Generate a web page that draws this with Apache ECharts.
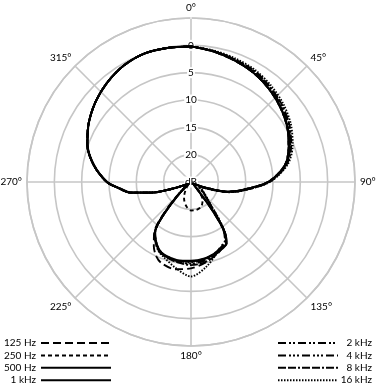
<!DOCTYPE html>
<html>
<head>
<meta charset="utf-8">
<script src="https://cdn.jsdelivr.net/npm/echarts@6/dist/echarts.min.js"></script>
<style>html,body{margin:0;padding:0;background:#fff}#c{width:380px;height:388px}</style>
</head>
<body>
<div id="c"></div>
<script>
// Angles in degrees (clockwise from top)
const angles = [0,10,20,30,40,50,60,70,80,90,100,105,110,115,120,125,130,135,140,143,146,150,155,160,170,180,190,200,205,210,215,218,221,225,230,235,240,245,250,255,260,265,270,280,290,300,310,320,330,340,350,360];
// Radius values: 25 = 0 dB, 0 = 25 dB attenuation (centre)
const hz125 = [24.8,24.2,23.6,23.0,22.2,21.3,20.3,19.0,17.4,14.1,9.0,6.8,3.5,1.6,0.7,0.4,0.5,0.9,2.2,6.3,10.8,12.9,13.4,14.0,15.0,15.8,16.2,15.8,15.0,13.6,11.8,10.4,7.5,3.8,1.3,0.7,0.5,1.5,3.5,7.5,11.2,13.2,15.4,18.1,20.2,21.6,22.8,23.8,24.6,25.0,24.9,24.8];
const hz250 = [24.8,24.2,23.6,23.0,22.2,21.3,20.3,19.0,17.4,14.0,9.0,6.8,3.5,1.5,0.5,0.5,0.8,1.5,2.5,3.2,3.8,4.2,4.7,5.0,5.2,5.2,4.6,3.6,3.0,2.3,1.6,1.3,1.0,0.7,0.5,0.5,0.6,1.5,3.5,7.5,11.2,13.2,15.4,18.1,20.2,21.6,22.8,23.8,24.6,25.0,24.9,24.8];
const hz500 = [24.8,24.2,23.6,23.0,22.2,21.3,20.3,19.0,17.4,14.1,9.0,6.8,3.5,1.6,0.7,0.4,0.4,0.8,2.0,6.5,11.0,13.0,13.5,13.8,14.3,14.5,14.6,14.3,13.8,12.8,11.6,10.0,6.5,3.0,1.0,0.6,0.5,1.5,3.5,7.5,11.2,13.2,15.4,18.1,20.2,21.6,22.8,23.8,24.6,25.0,24.9,24.8];
const khz1 = [24.8,24.2,23.6,23.0,22.2,21.4,20.4,19.1,17.5,14.2,9.1,6.9,3.6,1.7,0.8,0.5,0.5,0.9,2.2,6.6,11.1,13.0,13.4,13.7,14.2,14.4,14.5,14.2,13.7,12.7,11.5,9.9,6.4,2.9,1.0,0.6,0.5,1.5,3.5,7.4,11.1,13.1,15.3,18.0,20.1,21.6,22.8,23.8,24.6,25.0,24.9,24.8];
const khz2 = [24.8,24.3,23.7,23.2,22.4,21.6,20.6,19.3,17.5,14.2,9.2,7.0,4.0,2.2,1.6,2.0,2.8,3.8,5.5,7.8,10.6,12.4,13.0,13.6,14.4,14.7,14.6,14.2,13.7,12.7,11.4,9.9,6.8,3.2,1.2,0.8,0.7,1.6,3.6,7.5,11.2,13.2,15.4,18.1,20.2,21.6,22.8,23.8,24.6,25.0,24.9,24.8];
const khz4 = [24.8,24.3,23.8,23.3,22.5,21.7,20.7,19.4,17.6,14.3,9.3,7.1,4.1,2.3,1.7,2.1,2.9,3.9,5.7,8.0,10.8,12.6,13.1,13.7,14.6,14.9,14.7,14.3,13.8,12.8,11.5,10.0,6.9,3.3,1.2,0.8,0.7,1.6,3.6,7.5,11.2,13.2,15.4,18.1,20.2,21.6,22.8,23.8,24.6,25.0,24.9,24.8];
const khz8 = [24.8,24.3,23.8,23.4,22.6,21.8,20.8,19.5,17.7,14.3,9.3,7.1,4.1,2.3,1.8,2.2,3.0,4.0,5.8,8.2,10.9,12.8,13.3,13.9,14.9,15.2,14.9,14.4,13.9,12.9,11.5,10.0,6.9,3.3,1.2,0.8,0.7,1.6,3.6,7.5,11.2,13.2,15.4,18.1,20.2,21.6,22.8,23.8,24.6,25.0,24.9,24.8];
const khz16 = [24.8,24.4,24.0,23.6,22.9,22.1,21.1,19.8,17.9,14.4,9.4,7.2,4.2,2.4,1.9,2.4,3.2,4.2,6.0,8.6,11.0,12.9,13.3,13.9,15.8,17.3,16.0,14.6,14.0,12.9,11.6,10.0,6.9,3.3,1.2,0.8,0.7,1.6,3.6,7.5,11.2,13.2,15.4,18.1,20.2,21.6,22.8,23.8,24.6,25.0,24.9,24.8];
const seriesNames = ['125 Hz','250 Hz','500 Hz','1 kHz','2 kHz','4 kHz','8 kHz','16 kHz'];
const seriesValues = [hz125,hz250,hz500,khz1,khz2,khz4,khz8,khz16];
const dashes = [[8,4],[4,3],'solid','solid',[8,3,2,2,2,3],[8,3,2,2,2,2,2,3],[8,2,8,2,2,2],[1.5,1.5]];
const angleTicks = [0,45,90,135,180,225,270,315];
const dbLabels = {0:'dB',5:'20',10:'15',15:'10',20:'5',25:'0',30:''};

const FONT = 'Lato';
const GRID = '#c6c6c6';
const chart = echarts.init(document.getElementById('c'), null, {renderer:'canvas'});
const series = seriesNames.map((n,i)=>({
  name:n, type:'line', coordinateSystem:'polar', symbol:'none', smooth:0.3,
  data: angles.map((a,k)=>[seriesValues[i][k], a]),
  lineStyle:{color:'#000', width:1.9, type:dashes[i]},
  itemStyle:{color:'#000'}, z:5, animation:false
}));
const legendCommon = {orient:'vertical', top:338, padding:0, itemHeight:10, itemGap:2.4, selectedMode:false,
  itemStyle:{opacity:0}, formatter:n=>'{t|'+n+'}'};
chart.setOption({
  animation:false,
  backgroundColor:'#fff',
  polar:{center:[191,182], radius:164},
  angleAxis:{type:'value', min:0, max:360, interval:45, startAngle:90, clockwise:true,
    axisLine:{show:true, lineStyle:{color:GRID, width:1.6}},
    axisTick:{show:false},
    splitLine:{show:true, lineStyle:{color:GRID, width:1.6}},
    axisLabel:{margin:5, fontSize:10, fontFamily:FONT, color:'#000',
      formatter:v=> (angleTicks.indexOf(v)>=0 ? v+'°' : '')}
  },
  radiusAxis:{type:'value', min:0, max:30, interval:5,
    axisLine:{show:false}, axisTick:{show:false},
    splitLine:{show:true, lineStyle:{color:GRID, width:1.6}},
    axisLabel:{margin:0, align:'center', verticalAlign:'middle', fontSize:10, fontFamily:FONT, color:'#000',
      backgroundColor:'#fff', padding:[1,1,0,1], formatter:v=>dbLabels[v]}
  },
  legend:[
    Object.assign({}, legendCommon, {data:seriesNames.slice(0,4), left:4, align:'right', itemWidth:70,
     textStyle:{fontSize:10, fontFamily:FONT, color:'#000', rich:{t:{width:32, align:'right', fontSize:10, fontFamily:FONT, color:'#000'}}}}),
    Object.assign({}, legendCommon, {data:seriesNames.slice(4), right:8, align:'left', itemWidth:60,
     textStyle:{fontSize:10, fontFamily:FONT, color:'#000', rich:{t:{width:29, align:'right', fontSize:10, fontFamily:FONT, color:'#000'}}}})
  ],
  series:series
});
</script>
</body>
</html>
